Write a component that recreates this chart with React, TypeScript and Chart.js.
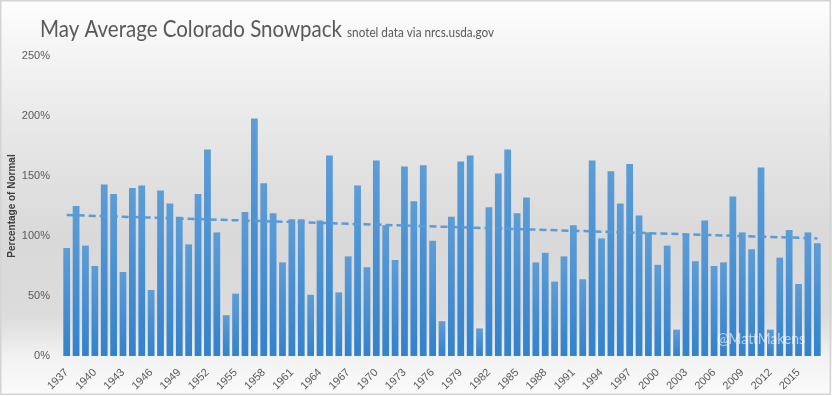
import React, { useEffect, useRef } from "react";
import { Chart, registerables } from "chart.js";

Chart.register(...registerables);

const years: string[] = [
  "1937","1938","1939","1940","1941","1942","1943","1944","1945","1946",
  "1947","1948","1949","1950","1951","1952","1953","1954","1955","1956",
  "1957","1958","1959","1960","1961","1962","1963","1964","1965","1966",
  "1967","1968","1969","1970","1971","1972","1973","1974","1975","1976",
  "1977","1978","1979","1980","1981","1982","1983","1984","1985","1986",
  "1987","1988","1989","1990","1991","1992","1993","1994","1995","1996",
  "1997","1998","1999","2000","2001","2002","2003","2004","2005","2006",
  "2007","2008","2009","2010","2011","2012","2013","2014","2015","2016",
  "2017",
];

const snowpack: number[] = [
  90, 125, 92, 75, 143, 135, 70, 140, 142, 55,
  138, 127, 116, 93, 135, 172, 103, 34, 52, 120,
  198, 144, 119, 78, 114, 114, 51, 113, 167, 53,
  83, 142, 74, 163, 109, 80, 158, 129, 159, 96,
  29, 116, 162, 167, 23, 124, 152, 172, 119, 132,
  78, 86, 62, 83, 109, 64, 163, 98, 154, 127,
  160, 117, 103, 76, 92, 22, 101, 79, 113, 75,
  78, 133, 103, 89, 157, 22, 82, 105, 60, 103,
  94,
];

const trendStart = 117.5;
const trendEnd = 98;

const yTicks: number[] = [0, 50, 100, 150, 200, 250];

const titleText = "May Average Colorado Snowpack";
const subtitleText = "snotel data via nrcs.usda.gov";
const yAxisTitle = "Percentage of Normal";
const watermark = "@MattMakens";

const FONT = "Lato, 'Liberation Sans', sans-serif";
const TICKFONT = "'Liberation Sans', 'DejaVu Sans', sans-serif";

export default function App() {
  const ref = useRef<HTMLCanvasElement | null>(null);

  useEffect(() => {
    document.body.style.margin = "0";
    const canvas = ref.current;
    if (!canvas) return;

    const trend: (number | null)[] = snowpack.map((_, i) =>
      i === 0 ? trendStart : i === snowpack.length - 1 ? trendEnd : null
    );

    const bgPlugin = {
      id: "bg",
      beforeDraw(chart: any) {
        const { ctx, width, height } = chart;
        ctx.save();
        const g = ctx.createLinearGradient(0, 0, 0, height);
        g.addColorStop(0, "#fefefe");
        g.addColorStop(0.12, "#f5f5f5");
        g.addColorStop(0.35, "#e6e6e6");
        g.addColorStop(0.6, "#d9d9d9");
        g.addColorStop(0.8, "#dcdcdc");
        g.addColorStop(0.9, "#f2f2f2");
        g.addColorStop(1, "#fbfbfb");
        ctx.fillStyle = g;
        ctx.fillRect(0, 0, width, height);
        ctx.restore();
      },
      afterDraw(chart: any) {
        const { ctx, width, height } = chart;
        ctx.save();
        ctx.fillStyle = "#595959";
        ctx.textBaseline = "alphabetic";
        ctx.font = `23px ${FONT}`;
        const tw = ctx.measureText(titleText).width;
        ctx.save();
        ctx.translate(40, 37);
        ctx.scale(302 / tw, 1);
        ctx.fillText(titleText, 0, 0);
        ctx.restore();
        ctx.font = `13px ${FONT}`;
        const sw = ctx.measureText(subtitleText).width;
        ctx.save();
        ctx.translate(347, 37);
        ctx.scale(147 / sw, 1);
        ctx.fillText(subtitleText, 0, 0);
        ctx.restore();
        ctx.font = `15px ${FONT}`;
        ctx.fillStyle = "rgba(255,255,255,0.6)";
        ctx.textBaseline = "middle";
        const ww = ctx.measureText(watermark).width;
        ctx.save();
        ctx.translate(717, 339);
        ctx.scale(88 / ww, 1);
        ctx.fillText(watermark, 0, 0);
        ctx.restore();
        ctx.strokeStyle = "#d4d4d4";
        ctx.lineWidth = 1.5;
        ctx.strokeRect(0.75, 0.75, width - 2.5, height - 2.5);
        ctx.restore();
      },
    };

    const chart = new Chart(canvas, {
      type: "bar",
      data: {
        labels: years,
        datasets: [
          {
            type: "line",
            label: "Trend",
            data: trend as any,
            borderColor: "#5b9bd5",
            borderWidth: 2.5,
            borderDash: [7, 4],
            pointRadius: 0,
            spanGaps: true,
            fill: false,
            order: 0,
          } as any,
          {
            type: "bar",
            label: "Snowpack",
            data: snowpack,
            order: 1,
            barPercentage: 0.72,
            categoryPercentage: 1,
            backgroundColor: (ctx: any) => {
              const ch = ctx.chart;
              const ys = ch.scales && ch.scales.y;
              if (!ys || ctx.parsed == null) return "#4a8fd2";
              const top = ys.getPixelForValue(ctx.parsed.y);
              const bottom = ys.getPixelForValue(0);
              if (!isFinite(top) || !isFinite(bottom) || top === bottom) return "#4a8fd2";
              const g = ch.ctx.createLinearGradient(0, top, 0, bottom);
              g.addColorStop(0, "#5d9dd7");
              g.addColorStop(1, "#3382cc");
              return g;
            },
          } as any,
        ],
      },
      options: {
        animation: false,
        responsive: true,
        maintainAspectRatio: false,
        layout: { padding: { top: 56, right: 10, left: 0, bottom: 0 } },
        plugins: {
          legend: { display: false },
          tooltip: { enabled: false },
          title: { display: false },
        },
        scales: {
          x: {
            grid: { display: false },
            border: { display: false },
            ticks: {
              autoSkip: false,
              minRotation: 45,
              maxRotation: 45,
              padding: 2,
              color: "#595959",
              font: { family: TICKFONT, size: 11 },
              callback: (_v: any, i: number) => (i % 3 === 0 ? years[i] : ""),
            },
            afterFit: (s: any) => {
              s.height = 40;
            },
          },
          y: {
            min: 0,
            max: 250,
            afterBuildTicks: (s: any) => {
              s.ticks = yTicks.map((v) => ({ value: v }));
            },
            grid: { display: false, drawTicks: false },
            border: { display: false },
            ticks: {
              padding: 12,
              color: "#595959",
              font: { family: TICKFONT, size: 11 },
              callback: (v: any) => `${v}%`,
            },
            title: {
              display: true,
              text: yAxisTitle,
              color: "#404040",
              font: { family: TICKFONT, size: 10, weight: "bold" },
              padding: { top: 6, bottom: 0 },
            },
            afterFit: (s: any) => {
              s.width = 62;
            },
          },
        },
      },
      plugins: [bgPlugin],
    });

    return () => chart.destroy();
  }, []);

  return (
    <div style={{ width: 832, height: 396, position: "relative" }}>
      <canvas ref={ref} />
    </div>
  );
}
